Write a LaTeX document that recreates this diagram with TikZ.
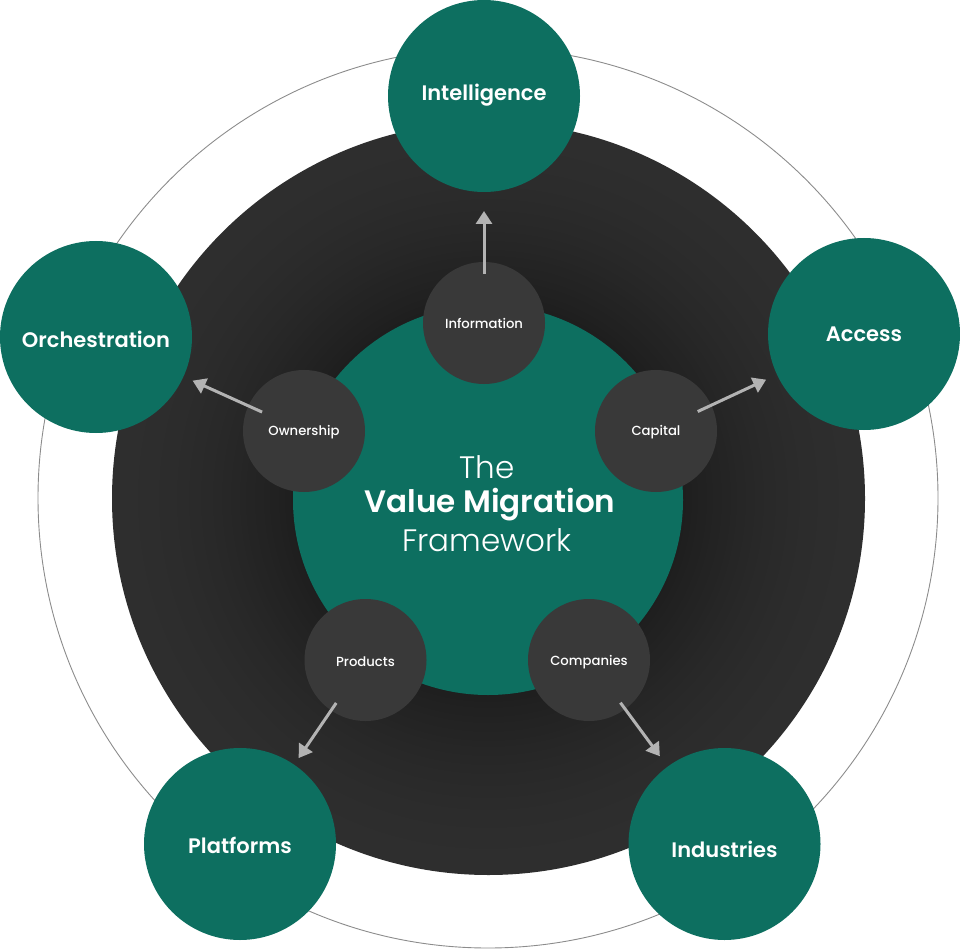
\documentclass[tikz,border=0pt]{standalone}
\usepackage{fontspec}
\setmainfont{Poppins}
\newfontfamily\popsemi{Poppins SemiBold}
\newfontfamily\popmed{Poppins Medium}
\newfontfamily\poplight{Poppins Light}
\usetikzlibrary{arrows.meta}
\definecolor{vmteal}{HTML}{0D6F60}
\definecolor{ringdark}{HTML}{1E1E1E}
\definecolor{ringlight}{HTML}{2E2E2E}
\definecolor{smallfill}{HTML}{393939}
\definecolor{arrowgray}{HTML}{B3B3B3}
\definecolor{outerline}{HTML}{8C8C8C}
\tikzset{
  bigcircle/.style={circle, fill=vmteal, minimum size=192pt, inner sep=0pt, outer sep=0pt, text=white, font=\popsemi\fontsize{21}{25}\selectfont},
  smallcircle/.style={circle, fill=smallfill, minimum size=122pt, inner sep=0pt, outer sep=0pt, text=white, font=\popmed\fontsize{13.2}{16}\selectfont},
  titletext/.style={text=white, inner sep=0pt, font=\fontsize{31}{37}\selectfont},
  arr/.style={draw=arrowgray, line width=3pt, -{Triangle[length=13pt,width=16pt]}}
}
\begin{document}
\begin{tikzpicture}[x=1pt,y=-1pt]
\useasboundingbox (0,0) rectangle (960,949);
% outer thin circle
\node[circle, draw=outerline, line width=0.9pt, minimum size=900pt, inner sep=0pt] (outer) at (488,498) {};
% dark ring with soft shadow towards the centre
\node[circle, fill=ringlight, minimum size=753pt, inner sep=0pt] (ring) at (488.5,498.5) {};
\foreach \r in {374,371,...,194} {
  \pgfmathsetmacro\f{100*((374-\r)/180)^1.7}
  \fill[ringdark!\f!ringlight] (ring.center) circle[radius=\r];
}
% central teal circle
\node[circle, fill=vmteal, minimum size=390pt, inner sep=0pt] (core) at (488,500) {};
\node[titletext, font=\poplight\fontsize{31}{37}\selectfont] (title1) at (487,467) {The};
\node[titletext, font=\popsemi\fontsize{31}{37}\selectfont] (title2) at (490,505) {Value Migration};
\node[titletext, font=\poplight\fontsize{31}{37}\selectfont] (title3) at (487,540) {Framework};
% big outer circles
\node[bigcircle] (intel) at (484,96) {\raisebox{1pt}[\height][\depth]{Intelligence}};
\node[bigcircle] (orch) at (96,337) {\raisebox{-2pt}[\height][\depth]{Orchestration}};
\node[bigcircle] (access) at (864,334) {Access};
\node[bigcircle] (plat) at (240,844) {\raisebox{-1pt}[\height][\depth]{Platforms}};
\node[bigcircle] (ind) at (724.5,844) {\raisebox{-5pt}[\height][\depth]{Industries}};
% small circles
\node[smallcircle] (info) at (484,323) {Information};
\node[smallcircle] (own) at (304,431) {\raisebox{-1pt}[\height][\depth]{Ownership}};
\node[smallcircle] (cap) at (656,431) {\raisebox{-1pt}[\height][\depth]{Capital}};
\node[smallcircle] (prod) at (365.5,660) {\raisebox{-2pt}[\height][\depth]{Products}};
\node[smallcircle] (comp) at (589,660) {\raisebox{-2pt}[\height][\depth]{Companies}};
% arrows
\draw[arr, shorten <=-12pt, shorten >=19pt] (info) -- (intel);
\draw[arr, shorten <=-15pt, shorten >=10pt] (own) -- (orch);
\draw[arr, shorten <=-15pt, shorten >=12pt] (cap) -- (access);
\draw[arr, shorten <=-9pt, shorten >=8pt] (prod) -- (plat);
\draw[arr, shorten <=-8pt, shorten >=13pt] (comp) -- (ind);
\end{tikzpicture}
\end{document}
